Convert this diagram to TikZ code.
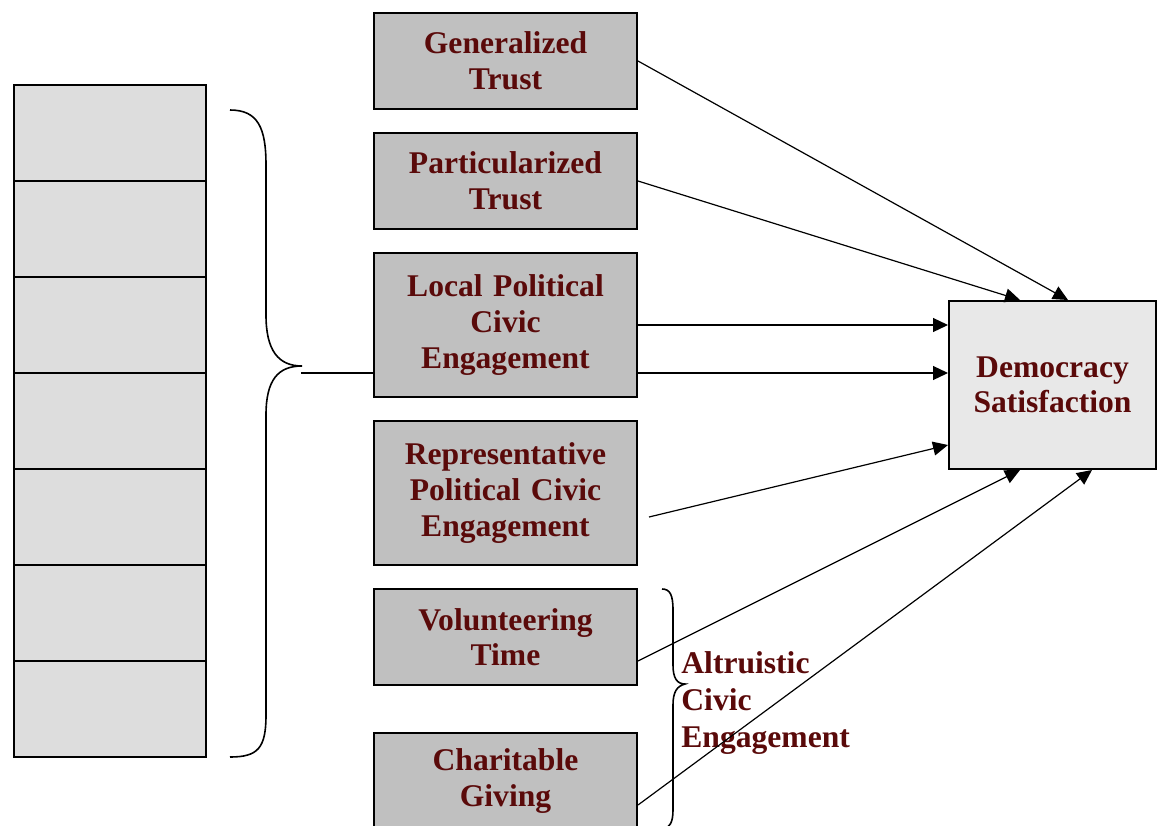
\documentclass[tikz,border=0pt]{standalone}
\usepackage{fontspec}
\setmainfont{Liberation Serif}
\usetikzlibrary{arrows.meta}
\definecolor{darkmaroon}{RGB}{90,10,10}
\definecolor{boxgray}{RGB}{192,192,192}
\definecolor{cellgray}{RGB}{221,221,221}
\definecolor{outgray}{RGB}{232,232,232}
\begin{document}
\begin{tikzpicture}[x=0.5pt,y=-0.5pt,
	factor/.style={draw,line width=1pt,fill=boxgray,minimum width=131.5pt,text width=125pt,
		align=center,inner sep=0pt,text=darkmaroon,font=\bfseries\fontsize{15.8}{17.8}\selectfont},
	cell/.style={draw,line width=0.8pt,fill=cellgray,minimum width=96pt,minimum height=48pt,inner sep=0pt},
	link/.style={-{Triangle[length=7.5pt,width=7pt]},line width=0.6pt}]
		\useasboundingbox (0,0) rectangle (1157,825);
		% stack on the left
		\foreach \i in {0,...,6}
			\node[cell] (cell\i) at (110,133+96*\i) {};
		% factors
		\node[factor,minimum height=48pt] (gen) at (505.5,61) {Generalized\\Trust};
		\node[factor,minimum height=48pt] (part) at (505.5,181) {Particularized\\Trust};
		\node[factor,minimum height=72pt] (local) at (505.5,325) {Local Political\\Civic\\Engagement};
		\node[factor,minimum height=72pt] (rep) at (505.5,493) {Representative\\Political Civic\\Engagement};
		\node[factor,minimum height=48pt] (vol) at (505.5,637) {Volunteering\\Time};
		\node[factor,minimum height=48pt] (char) at (505.5,781) {Charitable\\Giving};
		\node[factor,fill=outgray,minimum width=103.5pt,text width=100pt,minimum height=84pt] (dem) at (1052.5,385) {Democracy\\Satisfaction};
		% big brace
		\coordinate (bracetip) at (301,373);
		\draw[line width=0.8pt] (230,110) .. controls (258,110) and (266,128) .. (266,165) -- (266,315)
			.. controls (266,350) and (278,366) .. (302,366)
			.. controls (278,366) and (266,380) .. (266,415) -- (266,715)
			.. controls (266,748) and (258,757) .. (230,757);
		\draw[line width=0.8pt] (bracetip) -- (bracetip -| local.west);
		% small brace
		\draw[line width=0.8pt] (662,589) .. controls (670,589) and (673,595) .. (673,610) -- (673,665)
			.. controls (673,678) and (677,684) .. (685,684)
			.. controls (677,686) and (673,692) .. (673,705) -- (673,810)
			.. controls (673,822) and (670,828) .. (662,830);
		\node[anchor=west,align=left,inner sep=0pt,text=darkmaroon,font=\bfseries\fontsize{15.8}{18.6}\selectfont]
			(altru) at (681,703) {Altruistic\\Civic\\Engagement};
		% arrows
		\draw[link] (gen.east) -- ([xshift=7.75pt]dem.north);
		\draw[link] (part.east) -- ([xshift=-16.25pt]dem.north);
		\draw[link] (local.east) -- (local.east -| dem.west);
		\draw[link] ([yshift=-24pt]local.east) -- (bracetip -| dem.west);
		\draw[link] ([xshift=5.5pt,yshift=-12pt]rep.east) -- ([yshift=-30pt]dem.west);
		\draw[link] ([yshift=-12pt]vol.east) -- ([xshift=-16.25pt]dem.south);
		\draw[link] ([yshift=-12pt]char.east) -- ([xshift=19.75pt]dem.south);
\end{tikzpicture}
\end{document}
